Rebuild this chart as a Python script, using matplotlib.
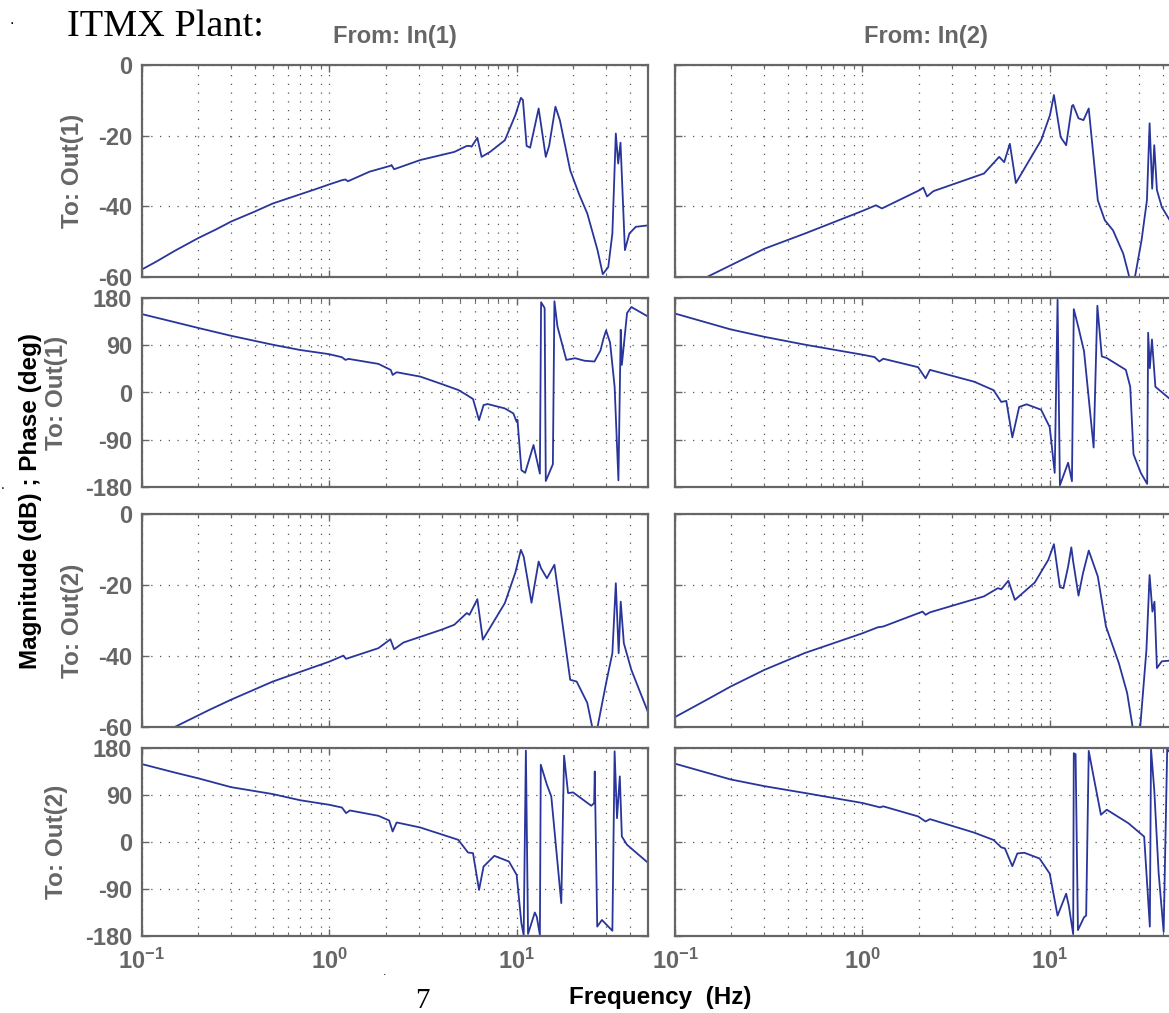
import numpy as np
import matplotlib
matplotlib.use("Agg")
import matplotlib.pyplot as plt
from matplotlib.ticker import FixedLocator, FixedFormatter, LogLocator, NullFormatter

# ---------------- data ----------------
# Column 1: From In(1)
mag11_f = [0.1, 0.12, 0.15, 0.2, 0.25, 0.3, 0.4, 0.5, 0.7, 0.84, 1.0, 1.17, 1.22, 1.26, 1.64, 2.13,
           2.15, 2.22, 3.06, 4.65, 5.42, 5.6, 5.75, 6.17, 6.5, 7.21, 8.65, 9.84, 10.53, 10.8, 11.3,
           11.8, 13.1, 14.3, 14.9, 16.1, 17.0, 19.3, 21.5, 23.8, 27.0, 28.8, 30.8, 32.4, 33.8, 34.8,
           35.8, 37.8, 39.9, 43.2, 50]
mag11_db = [-57.9, -55.6, -52.6, -49.0, -46.5, -44.3, -41.5, -39.2, -36.6, -35.2, -33.8, -32.6,
            -32.4, -32.9, -30.2, -28.5, -28.3, -29.5, -26.9, -24.6, -22.9, -22.9, -23.1, -20.6,
            -26.0, -24.6, -21.3, -14.2, -9.3, -9.9, -22.9, -23.4, -12.3, -26.0, -22.9, -11.8, -15.6,
            -29.8, -36.5, -42.0, -52.4, -59.2, -57.2, -47.7, -19.4, -27.9, -22.0, -52.4, -47.7,
            -45.8, -45.4]

ph11_f = [0.1, 0.15, 0.2, 0.3, 0.5, 0.7, 1.0, 1.17, 1.22, 1.27, 1.83, 2.13, 2.18, 2.29, 3.06, 3.97,
          4.88, 5.42, 5.85, 6.30, 6.66, 7.0, 8.65, 9.6, 10.0, 10.1, 10.6, 11.1, 12.3, 13.3, 13.5,
          14.1, 14.3, 15.6, 15.9, 16.5, 18.4, 20.5, 23.0, 26.0, 28.0, 29.0, 30.0, 31.5, 33.3, 34.9,
          35.9, 36.4, 38.8, 40.9, 50]
ph11_deg = [149.4, 134, 123, 108, 91, 81, 73.0, 67.2, 62.1, 64.0, 54.5, 43.0, 33.5, 38.6, 30.3, 16.3,
            4.8, -4.8, -12.4, -52.6, -23.9, -22.0, -30.3, -39.8, -55.8, -52.0, -148, -153, -100,
            -154.5, 171.8, 160.9, -168.6, -136.7, 173.7, 125.9, 62.1, 65.3, 60.5, 59.0, 80, 102,
            118.2, 95, 11.2, -167.3, 119.5, 52.6, 151.4, 162.8, 145]

mag21_f = [0.1, 0.15, 0.229, 0.3, 0.5, 1.0, 1.19, 1.23, 1.83, 2.12, 2.22, 2.49, 3.97, 4.65, 5.42,
           5.6, 6.17, 6.6, 8.65, 9.84, 10.53, 10.9, 12.0, 13.1, 13.5, 14.5, 15.9, 19.3, 20.9, 23.8,
           25.3, 26.2, 27.0, 30.0, 32.4, 33.8, 35.0, 35.9, 37.3, 40.9, 50]
mag21_db = [-64, -60, -55.2, -52.3, -47.2, -41.6, -39.9, -40.8, -37.8, -35.3, -38.1, -36.2, -32.6,
            -31.2, -27.9, -28.4, -24.0, -35.4, -25.1, -16.5, -10.1, -12.0, -25.0, -13.4, -15.3,
            -18.1, -14.3, -46.7, -47.2, -53.2, -60, -70, -60, -47.6, -39.2, -19.5, -39.2, -24.7,
            -36.4, -43.9, -55.6]

ph21_f = [0.1, 0.15, 0.2, 0.3, 0.5, 0.7, 1.0, 1.17, 1.23, 1.29, 1.83, 2.09, 2.18, 2.29, 3.06, 4.88,
          5.5, 5.85, 6.30, 6.66, 7.6, 9.1, 10.0, 10.6, 10.9, 11.2, 11.5, 12.5, 12.8, 13.3, 13.45,
          14.5, 15.3, 17.3, 17.9, 18.8, 20.0, 25.0, 25.9, 26.1, 26.9, 28.5, 32.4, 33.3, 34.3, 35.5,
          36.4, 38.8, 50]
ph21_deg = [149.3, 133, 122, 105, 91.8, 80, 71.3, 66, 55.3, 60.4, 50.2, 41.2, 20.1, 37.4, 27.8, 4.2,
            -20.1, -21.4, -91.8, -47, -26.5, -37.4, -63, -155.7, -178, 175, -176, -135, -143, -178,
            148, 109.7, 87.3, -117, 165.3, 93.7, 95, 69.4, 74.5, 135, -162, -149.3, -170, 173.6,
            45.7, 125.6, 10.5, -5.4, -39.3]

# Column 2: From In(2)
mag12_f = [0.1, 0.148, 0.198, 0.3, 0.493, 1.0, 1.18, 1.27, 2.02, 2.11, 2.21, 2.39, 4.45, 5.36, 5.70,
           6.11, 6.58, 8.97, 10.0, 10.5, 11.4, 12.2, 13.1, 13.3, 14.2, 15.1, 16.1, 18.0, 19.6, 21.7,
           24.6, 26.5, 27.5, 28.4, 30.8, 32.9, 34.0, 35.1, 36.0, 37.2, 39.5, 43.5, 50]
mag12_db = [-64, -60, -56.7, -52.0, -47.7, -41.3, -39.7, -40.6, -35.4, -34.7, -37.2, -35.7, -30.7,
            -26.0, -27.5, -22.3, -33.4, -21.3, -14.2, -8.5, -20.4, -22.7, -11.6, -11.3, -15.1,
            -15.6, -12.3, -38.3, -43.9, -46.8, -53.4, -60, -70, -60, -49.6, -38.3, -16.5, -35.0,
            -22.7, -35.4, -40.2, -43.9, -48]

ph12_f = [0.1, 0.198, 0.3, 0.49, 1.0, 1.16, 1.23, 1.29, 1.98, 2.17, 2.29, 3.94, 5.0, 5.5, 5.85, 6.3,
          6.85, 7.5, 8.97, 9.97, 10.6, 10.98, 11.3, 12.5, 13.1, 13.4, 14.2, 15.2, 17.1, 17.9, 18.9,
          20.1, 25.4, 26.8, 27.9, 30.5, 33.0, 33.4, 34.1, 35.0, 36.5, 43.4, 50]
ph12_deg = [150.4, 120.2, 106, 91.3, 72, 67.5, 59.1, 64.3, 48.2, 27, 43.1, 20.6, 4.5, -18, -16,
            -85.5, -27.6, -22.5, -32.8, -66, -153, 176.7, -176.7, -133.7, -169, 158.7, 123.4, 78.4,
            -104.8, 165.2, 68.8, 65.6, 43.1, 10.9, -117.6, -153, -174, 113.8, 46.3, 101, 10.9,
            -11.6, -25]

mag22_f = [0.1, 0.148, 0.198, 0.3, 0.49, 1.0, 1.21, 1.29, 2.09, 2.17, 2.29, 4.45, 5.27, 5.5, 6.0,
           6.5, 8.3, 9.8, 10.5, 11.3, 11.8, 12.5, 13.0, 13.3, 14.2, 15.0, 16.1, 18.0, 19.9, 23.3,
           25.8, 27.6, 28.8, 30.3, 32.7, 34.0, 35.2, 36.1, 37.2, 39.5, 43.5, 50]
mag22_db = [-57.2, -52.3, -48.6, -43.9, -39.2, -33.6, -31.9, -31.7, -27.5, -28.4, -27.7, -23.2,
            -20.9, -21.2, -18.8, -24.2, -19.3, -12.9, -8.5, -20.6, -20.9, -14.8, -9.4, -13.4,
            -23.0, -16.7, -10.3, -17.6, -31.7, -42.0, -50.4, -60, -70, -60, -38.3, -17.2, -27.5,
            -24.7, -43.4, -41.5, -41.3, -41.3]

ph22_f = [0.1, 0.198, 0.3, 0.49, 1.0, 1.18, 1.24, 1.29, 1.98, 2.17, 2.29, 3.94, 5.0, 5.5, 5.75, 6.3,
          6.7, 7.3, 8.8, 9.97, 10.98, 12.2, 12.6, 13.3, 13.4, 13.7, 14.1, 15.2, 15.6, 16.1, 17.0,
          18.7, 20.1, 26.2, 31.8, 34.1, 34.6, 36.0, 38.0, 40.4, 42.2, 50]
ph22_deg = [150, 119.8, 106.9, 94, 74.7, 68.3, 66.3, 68.3, 49, 39.3, 43.8, 18, 3.9, -10.3, -12.2,
            -46.4, -21.9, -20.6, -31.6, -60.5, -141, -99, -121.7, -176.4, 170, 168, -168.7, -144,
            -141, 174.5, 129.4, 52.2, 61.8, 36, 10.3, -162, 178, 100, -60, -172, 178, 145]

mag_ticks = [-60, -40, -20, 0]
mag_ticklabels = ["-60", "-40", "-20", "0"]
ph_ticks = [-180, -90, 0, 90, 180]
ph_ticklabels = ["-180", "-90", "0", "90", "180"]
x_ticks = [0.1, 1, 10]
x_ticklabels = [r"$10^{-1}$", r"$10^{0}$", r"$10^{1}$"]
col_titles = ["From: In(1)", "From: In(2)"]
row_labels = ["To: Out(1)", "To: Out(1)", "To: Out(2)", "To: Out(2)"]

# ---------------- style ----------------
plt.rcParams["font.family"] = ["Liberation Sans", "DejaVu Sans"]
plt.rcParams["mathtext.fontset"] = "custom"
plt.rcParams["mathtext.rm"] = "Liberation Sans:bold"
plt.rcParams["mathtext.it"] = "Liberation Sans:bold"
plt.rcParams["mathtext.bf"] = "Liberation Sans:bold"
plt.rcParams["axes.unicode_minus"] = False

W, H = 1169, 1013
fig = plt.figure(figsize=(W / 100, H / 100), dpi=100)

GRAY = "#666666"
LINE = "#29359a"
rows_px = [(65, 277), (298, 487), (514, 727), (748, 936)]
cols_px = [(141.7, 647.7), (675, 1181)]

def rect(x0, x1, y0, y1):
    return [x0 / W, 1 - y1 / H, (x1 - x0) / W, (y1 - y0) / H]

panels = [
    [(mag11_f, mag11_db), (mag12_f, mag12_db)],
    [(ph11_f, ph11_deg), (ph12_f, ph12_deg)],
    [(mag21_f, mag21_db), (mag22_f, mag22_db)],
    [(ph21_f, ph21_deg), (ph22_f, ph22_deg)],
]

for r, (y0, y1) in enumerate(rows_px):
    is_mag = r % 2 == 0
    for c, (x0, x1) in enumerate(cols_px):
        ax = fig.add_axes(rect(x0, x1, y0, y1))
        f, v = panels[r][c]
        ax.plot(f, v, color=LINE, lw=1.3)
        ax.set_xscale("log")
        ax.set_xlim(0.1, 50)
        if is_mag:
            ax.set_ylim(-60, 0)
            ax.yaxis.set_major_locator(FixedLocator(mag_ticks))
            ax.yaxis.set_major_formatter(FixedFormatter(mag_ticklabels))
        else:
            ax.set_ylim(-180, 180)
            ax.yaxis.set_major_locator(FixedLocator(ph_ticks))
            ax.yaxis.set_major_formatter(FixedFormatter(ph_ticklabels))
        ax.xaxis.set_major_locator(FixedLocator(x_ticks))
        ax.xaxis.set_minor_locator(LogLocator(base=10, subs=np.arange(2, 10), numticks=20))
        ax.xaxis.set_minor_formatter(NullFormatter())
        if r == 3:
            ax.xaxis.set_major_formatter(FixedFormatter(x_ticklabels))
        else:
            ax.xaxis.set_major_formatter(NullFormatter())
        if c == 1:
            ax.yaxis.set_major_formatter(NullFormatter())
        for s in ax.spines.values():
            s.set_color(GRAY)
            s.set_linewidth(1.6)
        ax.tick_params(axis="both", which="major", direction="in", length=5, width=1.0,
                       color=GRAY, labelcolor=GRAY, labelsize=17, top=True, right=True, pad=7)
        ax.tick_params(axis="x", which="minor", direction="in", length=3, width=0.8,
                       color=GRAY, top=True, bottom=True)
        ax.tick_params(axis="x", which="major", pad=9)
        for lab in ax.get_xticklabels() + ax.get_yticklabels():
            lab.set_fontweight("bold")
        ax.grid(True, which="major", axis="both", color="#555555", lw=0.9, ls=(0, (1, 6)))
        ax.grid(True, which="minor", axis="x", color="#555555", lw=0.9, ls=(0, (1, 6)))

# ---------------- texts ----------------
fig.text(67 / W, 1 - 36 / H, "ITMX Plant:", family=["Liberation Serif", "DejaVu Serif"],
         fontsize=27.5, color="black", ha="left", va="baseline")
fig.text(12 / W, 1 - 20 / H, ".", fontsize=12, color="black", ha="center", va="center")
fig.text(3 / W, 1 - 485 / H, ".", fontsize=10, color="black", ha="center", va="center")
fig.text(385 / W, 1 - 972 / H, ".", fontsize=9, color="black", ha="center", va="center")

for c, (x0, x1) in enumerate(cols_px):
    xc = 394.7 if c == 0 else 926
    fig.text(xc / W, 1 - 37 / H, col_titles[c], fontsize=17, fontweight="bold",
             color=GRAY, ha="center", va="center")

for r, (y0, y1) in enumerate(rows_px):
    xl = 73 if r % 2 == 0 else 57
    fig.text(xl / W, 1 - (y0 + y1) / 2 / H, row_labels[r], fontsize=17.5, fontweight="bold",
             color=GRAY, rotation=90, ha="center", va="center")

fig.text(31 / W, 1 - 501 / H, "Magnitude (dB) ; Phase (deg)", fontsize=17.5, fontweight="bold",
         color="black", rotation=90, ha="center", va="center")
fig.text(660 / W, 1 - 997 / H, "Frequency  (Hz)", fontsize=17.5, fontweight="bold",
         color="black", ha="center", va="center")
fig.text(422 / W, 1 - 1001 / H, "7", family=["Liberation Serif", "DejaVu Serif"], fontsize=21,
         color="black", ha="center", va="center")

fig.savefig("out.png", dpi=100)
